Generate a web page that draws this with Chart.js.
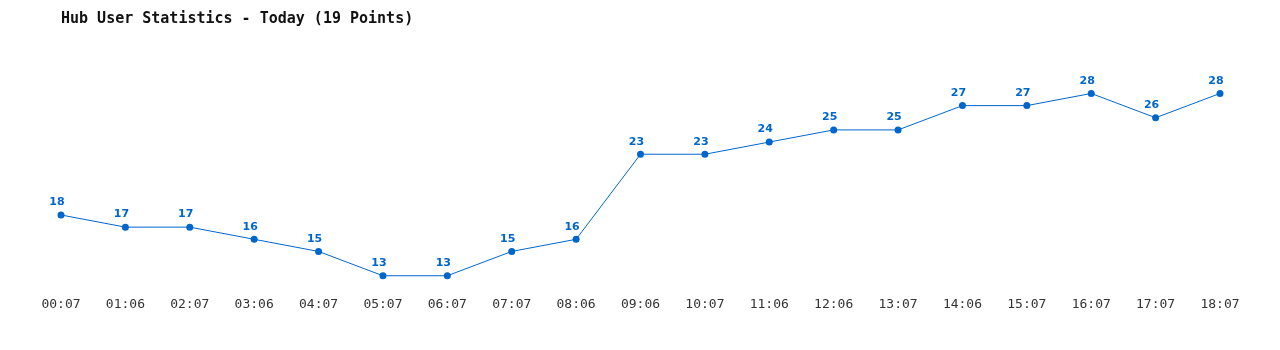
<!DOCTYPE html>
<html>
<head>
<meta charset="utf-8">
<script src="https://cdn.jsdelivr.net/npm/chart.js@4"></script>
<style>
  html, body { margin: 0; padding: 0; background: #fff; }
  #wrap { width: 1280px; height: 350px; }
</style>
</head>
<body>
<div id="wrap"><canvas id="hubChart" width="1280" height="350"></canvas></div>
<script>
const times = [
	"00:07", "01:06", "02:07", "03:06", "04:07", "05:07", "06:07",
	"07:07", "08:06", "09:06", "10:07", "11:06", "12:06", "13:07",
	"14:06", "15:07", "16:07", "17:07", "18:07",
];

const users = [18, 17, 17, 16, 15, 13, 13, 15, 16, 23, 23, 24, 25, 25, 27, 27, 28, 26, 28];

const blue = "#0066cc";

// draws the value above each point
const pointLabels = {
	id: "pointLabels",
	afterDatasetsDraw(chart) {
		const ctx = chart.ctx;
		const meta = chart.getDatasetMeta(0);
		ctx.save();
		ctx.font = "bold 11px 'DejaVu Sans'";
		ctx.fillStyle = blue;
		ctx.textAlign = "center";
		ctx.textBaseline = "middle";
		meta.data.forEach((pt, i) => {
			ctx.fillText(String(users[i]), pt.x - 4, pt.y - 12.5);
		});
		ctx.restore();
	},
};

new Chart("hubChart", {
	type: "line",
	data: {
		labels: times,
		datasets: [
			{
				data: users,
				borderColor: blue,
				backgroundColor: blue,
				borderWidth: 1,
				pointRadius: 3.5,
				pointBackgroundColor: blue,
				pointBorderWidth: 0,
				fill: false,
				tension: 0,
			},
		],
	},
	options: {
		responsive: false,
		animation: false,
		layout: {
			padding: { left: 61, right: 60, top: 0, bottom: 28.5 },
		},
		scales: {
			x: {
				offset: false,
				grid: { display: false, drawTicks: false },
				border: { display: false },
				ticks: {
					color: "#333",
					padding: 9,
					maxRotation: 0,
					autoSkip: false,
					font: { family: "'DejaVu Sans Mono'", size: 13 },
				},
			},
			y: {
				display: false,
				min: 12,
				max: 31,
			},
		},
		plugins: {
			legend: { display: false },
			tooltip: { enabled: false },
			title: {
				display: true,
				text: "Hub User Statistics - Today (19 Points)",
				align: "start",
				color: "#111",
				font: { family: "'DejaVu Sans Mono'", size: 15, weight: "bold" },
				padding: { top: 10, bottom: 29 },
			},
		},
	},
	plugins: [pointLabels],
});
</script>
</body>
</html>
